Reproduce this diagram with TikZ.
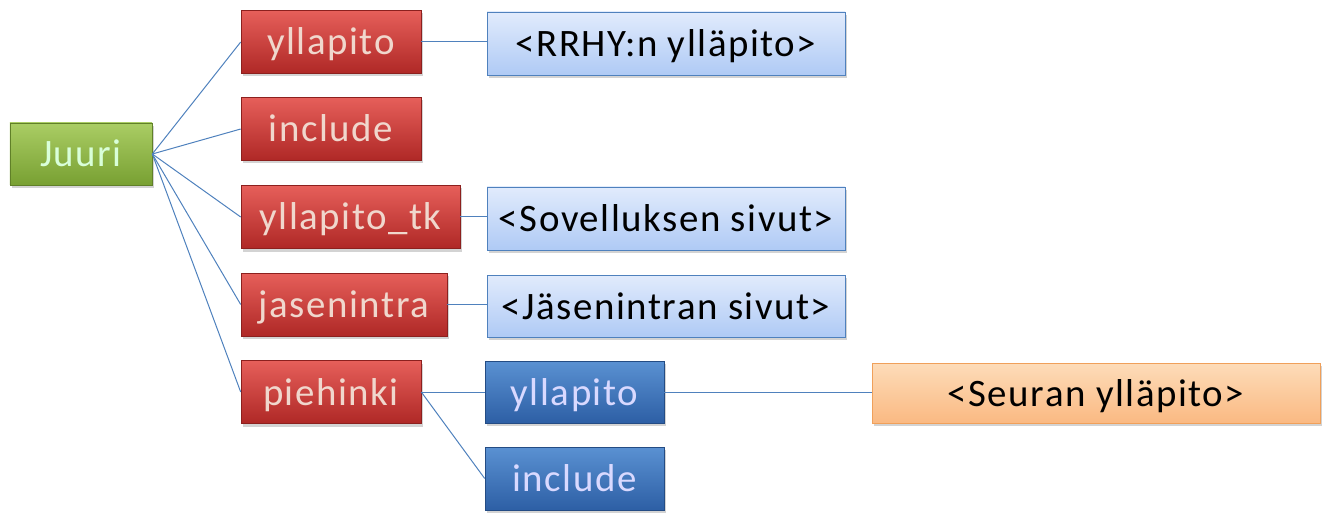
\documentclass[tikz,border=0pt]{standalone}
\usepackage{fontspec}
\setmainfont[LetterSpace=4]{Carlito}
\usetikzlibrary{shadows}
\definecolor{lnk}{RGB}{79,129,189}
\definecolor{gtop}{RGB}{170,205,100}
\definecolor{gbot}{RGB}{120,160,50}
\definecolor{rtop}{RGB}{230,95,90}
\definecolor{rbot}{RGB}{175,40,38}
\definecolor{rtxt}{RGB}{240,215,205}
\definecolor{ltop}{RGB}{225,235,252}
\definecolor{lbot}{RGB}{175,202,245}
\definecolor{dtop}{RGB}{90,145,210}
\definecolor{dbot}{RGB}{45,95,165}
\definecolor{otop}{RGB}{253,220,185}
\definecolor{obot}{RGB}{250,185,130}
\definecolor{oborder}{RGB}{240,160,90}
\tikzset{
  boxbase/.style={inner sep=0pt, text height=30bp, text depth=4bp,
    font=\fontsize{39}{40}\selectfont,
    drop shadow={shadow xshift=2bp, shadow yshift=-3bp, opacity=0.35}},
  greenbox/.style={boxbase, top color=gtop, bottom color=gbot, draw=gbot!80!black, line width=0.6bp, text=white!85!green},
  redbox/.style={boxbase, top color=rtop, bottom color=rbot, draw=rbot!80!black, line width=0.6bp, text=rtxt},
  lightbox/.style={boxbase, top color=ltop, bottom color=lbot, draw=lnk, line width=0.8bp, text=black},
  darkbox/.style={boxbase, top color=dtop, bottom color=dbot, draw=dbot!80!black, line width=0.6bp, text=white!85!blue},
  orangebox/.style={boxbase, top color=otop, bottom color=obot, draw=oborder, line width=0.8bp, text=black},
  link/.style={draw=lnk, line width=1bp}
}
\begin{document}
\begin{tikzpicture}[x=1bp,y=-1bp]
\useasboundingbox (0,0) rectangle (1326,513);
% root
\node[greenbox, minimum width=142bp, minimum height=62bp] (root) at (81,154) {Juuri};
% red
\node[redbox, minimum width=180bp, minimum height=63bp] (r1) at (331,42) {yllapito};
\node[redbox, minimum width=180bp, minimum height=63bp] (r2) at (331,129) {include};
\node[redbox, minimum width=219bp, minimum height=63bp] (r3) at (350.5,217) {yllapito\_tk};
\node[redbox, minimum width=206bp, minimum height=63bp] (r4) at (344,304.5) {jasenintra};
\node[redbox, minimum width=180bp, minimum height=63bp] (r5) at (331,392) {piehinki};
% light blue
\node[lightbox, minimum width=358bp, minimum height=63bp] (b1) at (666,43.5) {<RRHY:n ylläpito>};
\node[lightbox, minimum width=358bp, minimum height=63bp] (b3) at (666,218.5) {<Sovelluksen sivut>};
\node[lightbox, minimum width=358bp, minimum height=62bp] (b4) at (666,306) {<Jäsenintran sivut>};
% dark blue
\node[darkbox, minimum width=179bp, minimum height=62bp] (d1) at (574.5,392) {yllapito};
\node[darkbox, minimum width=179bp, minimum height=63bp] (d2) at (574.5,478.5) {include};
% orange
\node[orangebox, minimum width=448bp, minimum height=60bp] (o1) at (1096,393) {<Seuran ylläpito>};
% links
\foreach \t in {r1,r2,r3,r4,r5} \draw[link] (root.east) -- (\t.west);
\draw[link] (r1.east) -- (b1.west |- r1.east);
\draw[link] (r3.east) -- (b3.west |- r3.east);
\draw[link] (r4.east) -- (b4.west |- r4.east);
\draw[link] (r5.east) -- (d1.west);
\draw[link] (r5.east) -- (d2.west);
\draw[link] (d1.east) -- (o1.west |- d1.east);
\end{tikzpicture}
\end{document}
